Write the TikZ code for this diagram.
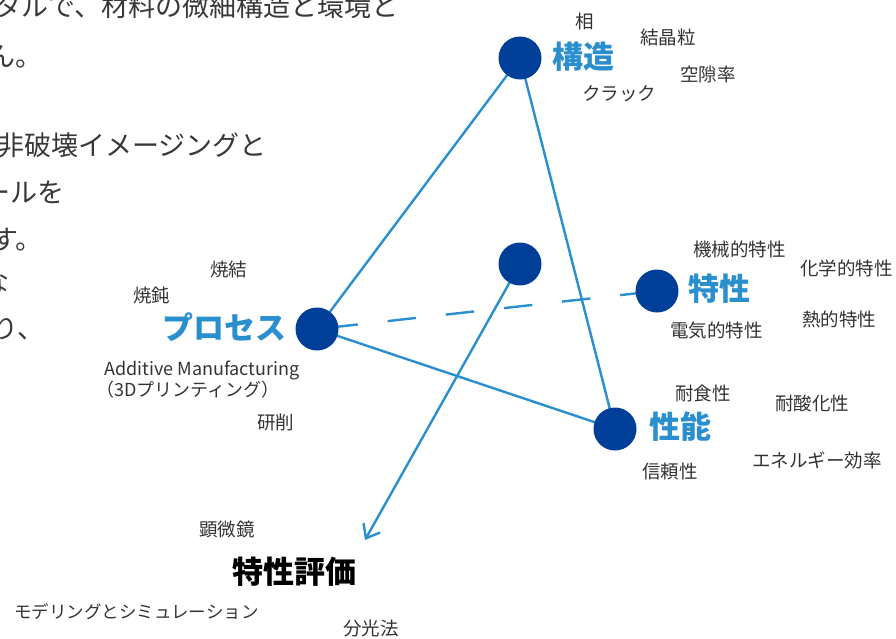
\documentclass[tikz,border=0pt]{standalone}
\usepackage{fontspec}
\setmainfont{Noto Sans CJK JP}
\usetikzlibrary{arrows.meta}
\definecolor{dotblue}{HTML}{003F98}
\definecolor{lineblue}{HTML}{2A8FCE}
\definecolor{termgray}{HTML}{333333}
\definecolor{paragray}{HTML}{383838}
\tikzset{
  dot/.style={circle, fill=dotblue, minimum size=43pt, inner sep=0pt},
  link/.style={draw=lineblue, line width=2.4pt},
  head/.style={font=\fontsize{31}{31}\selectfont\bfseries, text=lineblue, anchor=west, inner sep=0pt},
  term/.style={font=\fontsize{18.5}{18.5}\selectfont, text=termgray, anchor=west, inner sep=0pt},
  para/.style={font=\fontsize{27}{27}\selectfont, text=paragray, anchor=east, inner sep=0pt}
}
\begin{document}
\begin{tikzpicture}[x=1pt,y=-1pt]
\useasboundingbox (0,0) rectangle (896,638);
\clip (0,0) rectangle (896,638);
% paragraph fragments
\node[para] (p1) at (399,6) {タルで、材料の微細構造と環境と};
\node[para] (p2) at (43,57) {ん。};
\node[para] (p3) at (267,145) {非破壊イメージングと};
\node[para] (p4) at (65,192) {ールを};
\node[para] (p5) at (43,240) {す。};
\node[para] (p6) at (10,282) {な};
\node[para] (p7) at (45,329) {り、};
% coordinates of dots
\coordinate (cS) at (520,58);
\coordinate (cM) at (520,264);
\coordinate (cT) at (657,291);
\coordinate (cP) at (317,329);
\coordinate (cN) at (615,429);
\coordinate (tip) at (365,540);
% connectors
\draw[link] (cP) -- (cS);
\draw[link] (cS) -- (cN);
\draw[link] (cP) -- (cN);
\draw[link, dash pattern=on 28.5pt off 30pt, dash phase=45.9pt] (cP) -- (cT);
\draw[link, -{Straight Barb[length=12pt,width=19pt]}] (cM) -- (tip);
% dots
\node[dot] (struct) at (cS) {};
\node[dot] (mid) at (cM) {};
\node[dot] (prop) at (cT) {};
\node[dot] (proc) at (cP) {};
\node[dot] (perf) at (cN) {};
% headings
\node[head] (hS) at (552,57) {構造};
\node[head] (hT) at (688,289) {特性};
\node[head] (hP) at (162,327) {プロセス};
\node[head] (hN) at (649,427) {性能};
\node[head, text=black] (hE) at (232,572) {特性評価};
% terms
\node[term] (t1) at (575,21) {相};
\node[term] (t2) at (640,37) {結晶粒};
\node[term] (t3) at (680,74) {空隙率};
\node[term] (t4) at (582,94) {クラック};
\node[term] (t5) at (693,249) {機械的特性};
\node[term] (t6) at (800,268) {化学的特性};
\node[term] (t7) at (802,319) {熱的特性};
\node[term] (t8) at (670,330) {電気的特性};
\node[term] (t9) at (210,269) {焼結};
\node[term] (t10) at (133,295) {焼鈍};
\node[term, font=\fontsize{18}{18}\selectfont] (t11) at (104,370) {Additive Manufacturing};
\node[term, font=\fontsize{18}{18}\selectfont] (t12) at (96,390) {（3Dプリンティング）};
\node[term] (t13) at (257,422) {研削};
\node[term] (t14) at (199,529) {顕微鏡};
\node[term, font=\fontsize{17.5}{17.5}\selectfont] (t15) at (14,612) {モデリングとシミュレーション};
\node[term] (t16) at (343,629) {分光法};
\node[term] (t17) at (675,393) {耐食性};
\node[term] (t18) at (775,403) {耐酸化性};
\node[term] (t19) at (752,460) {エネルギー効率};
\node[term] (t20) at (642,471) {信頼性};
\end{tikzpicture}
\end{document}
